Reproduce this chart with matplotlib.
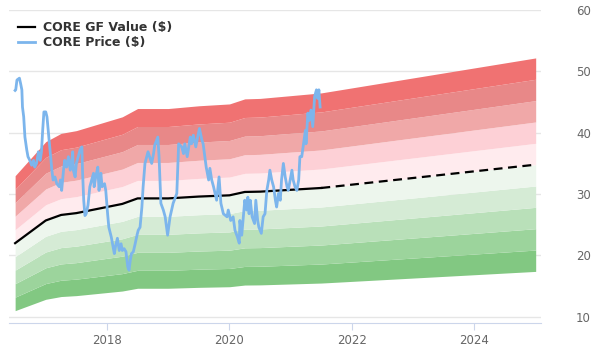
import matplotlib
matplotlib.use("Agg")
import matplotlib.pyplot as plt
import numpy as np

# GF Value (solid part is history, last segment is the projection)
gf_years = [2016.5, 2017.0, 2017.25, 2017.5, 2018.0, 2018.25, 2018.5, 2019.0,
            2019.5, 2020.0, 2020.25, 2020.5, 2021.0, 2021.5, 2025.0]
gf_vals = [22.0, 25.7, 26.6, 26.9, 27.9, 28.4, 29.3, 29.3,
           29.6, 29.8, 30.35, 30.4, 30.7, 31.0, 34.8]
gf_split = 2021.5

price_years = [
    2016.50, 2016.51, 2016.53, 2016.57, 2016.59, 2016.61, 2016.62, 2016.64, 2016.66, 2016.69,
    2016.71, 2016.74, 2016.77, 2016.80, 2016.82, 2016.85, 2016.88, 2016.91, 2016.93, 2016.95,
    2016.97, 2017.00, 2017.02, 2017.04, 2017.07, 2017.10, 2017.12, 2017.15, 2017.18, 2017.22,
    2017.24, 2017.26, 2017.29, 2017.31, 2017.34, 2017.37, 2017.40, 2017.42, 2017.44, 2017.45,
    2017.48, 2017.50, 2017.53, 2017.56, 2017.59, 2017.60, 2017.62, 2017.64, 2017.66, 2017.69,
    2017.72, 2017.75, 2017.78, 2017.79, 2017.82, 2017.85, 2017.87, 2017.90, 2017.92, 2017.96,
    2017.98, 2018.01, 2018.03, 2018.07, 2018.09, 2018.12, 2018.14, 2018.17, 2018.20, 2018.23,
    2018.25, 2018.28, 2018.31, 2018.34, 2018.36, 2018.38, 2018.40, 2018.43, 2018.46, 2018.49,
    2018.51, 2018.54, 2018.57, 2018.59, 2018.62, 2018.67, 2018.73, 2018.76, 2018.78, 2018.81,
    2018.83, 2018.85, 2018.88, 2018.92, 2018.95, 2018.99, 2019.03, 2019.08, 2019.14, 2019.17,
    2019.22, 2019.25, 2019.27, 2019.31, 2019.36, 2019.38, 2019.41, 2019.45, 2019.48, 2019.51,
    2019.55, 2019.57, 2019.62, 2019.66, 2019.68, 2019.71, 2019.74, 2019.79, 2019.83, 2019.86,
    2019.90, 2019.96, 2019.98, 2020.02, 2020.06, 2020.09, 2020.13, 2020.16, 2020.17, 2020.20,
    2020.23, 2020.25, 2020.28, 2020.30, 2020.32, 2020.34, 2020.37, 2020.41, 2020.43, 2020.46,
    2020.48, 2020.52, 2020.55, 2020.58, 2020.61, 2020.64, 2020.66, 2020.69, 2020.72, 2020.75,
    2020.77, 2020.80, 2020.83, 2020.85, 2020.88, 2020.91, 2020.94, 2020.96, 2020.99, 2021.02,
    2021.04, 2021.07, 2021.10, 2021.13, 2021.15, 2021.18, 2021.21, 2021.24, 2021.25, 2021.28,
    2021.30, 2021.33, 2021.36, 2021.39, 2021.42, 2021.44, 2021.46, 2021.48,
]
price_vals = [
    46.9, 47.0, 48.6, 48.9, 48.0, 47.0, 44.2, 42.6, 39.3, 37.2,
    36.1, 35.5, 34.7, 35.5, 34.4, 35.0, 36.9, 35.5, 36.9, 40.4,
    43.4, 43.4, 42.6, 40.4, 37.2, 33.9, 32.3, 32.8, 31.7, 31.2,
    32.3, 30.6, 33.9, 35.5, 34.4, 36.1, 33.9, 35.0, 36.9, 33.9,
    32.8, 35.0, 36.1, 37.2, 37.7, 33.9, 29.0, 26.5, 26.8, 28.2,
    31.2, 32.3, 33.4, 31.2, 33.0, 34.4, 30.6, 33.4, 31.2, 31.7,
    30.6, 26.8, 24.6, 23.0, 21.9, 20.3, 21.5, 22.8, 20.8, 21.9,
    20.8, 21.1, 20.6, 18.1, 17.6, 19.2, 20.3, 20.6, 21.9, 23.3,
    24.1, 24.6, 27.9, 31.2, 35.0, 36.9, 35.0, 36.6, 38.0, 38.8,
    39.3, 36.1, 28.5, 27.4, 26.3, 23.3, 26.3, 28.5, 30.1, 38.2,
    37.7, 36.6, 38.2, 36.1, 39.3, 38.2, 39.6, 37.7, 39.3, 40.7,
    38.8, 38.2, 34.4, 32.3, 34.2, 32.3, 31.2, 29.0, 32.8, 28.5,
    26.8, 26.3, 27.4, 25.7, 26.3, 24.1, 23.0, 22.0, 25.7, 23.3,
    26.8, 29.0, 27.4, 29.5, 26.8, 29.0, 26.3, 25.2, 29.0, 25.7,
    24.6, 23.6, 26.3, 26.8, 30.6, 32.3, 33.9, 32.3, 31.2, 29.0,
    27.9, 30.1, 29.0, 32.3, 35.0, 32.8, 31.2, 30.6, 32.3, 33.9,
    32.3, 31.2, 30.6, 32.3, 36.1, 36.1, 38.2, 40.4, 38.2, 43.2,
    42.0, 43.7, 41.0, 45.9, 47.0, 45.6, 47.0, 44.2,
]

# band edges as multiples of the GF Value, with their fill colours
band_edges = [0.5, 0.6, 0.7, 0.8, 0.9, 1.0, 1.1, 1.2, 1.3, 1.4, 1.5]
band_colors = ["#82c882", "#9cd49c", "#b9e0b9", "#d5ebd5", "#edf6ed",
               "#ffebee", "#fdd0d6", "#f0a8a8", "#e88888", "#f07272"]

x_ticks = [2018, 2020, 2022, 2024]
y_ticks = [10, 20, 30, 40, 50, 60]


def main():
    fig = plt.figure(figsize=(6, 3.6), dpi=100)
    ax = fig.add_axes([0.015, 0.103, 0.887, 0.869])

    gx = np.array(gf_years)
    gv = np.array(gf_vals)
    for lo, hi, col in zip(band_edges[:-1], band_edges[1:], band_colors):
        ax.fill_between(gx, gv * lo, gv * hi, color=col, lw=0, zorder=1)

    hist = gx <= gf_split
    fut = gx >= gf_split
    ax.plot(gx[hist], gv[hist], color="black", lw=1.6, zorder=3,
            label="CORE GF Value ($)")
    ax.plot(gx[fut], gv[fut], color="black", lw=1.6, ls=(0, (4, 2.5)), zorder=3)
    ax.plot(price_years, price_vals, color="#7cb5ec", lw=2, zorder=4,
            label="CORE Price ($)")

    ax.set_xlim(2016.40, 2025.09)
    ax.set_ylim(9.0, 60)
    ax.set_xticks(x_ticks)
    ax.set_yticks(y_ticks)
    ax.yaxis.tick_right()
    ax.grid(axis="y", color="#e6e6e6", lw=1)
    ax.set_axisbelow(True)
    for s in ["top", "left", "right"]:
        ax.spines[s].set_visible(False)
    ax.spines["bottom"].set_color("#ccd6eb")
    ax.tick_params(axis="x", colors="#ccd6eb", length=5, labelcolor="#666666",
                   labelsize=8.5, pad=3)
    ax.tick_params(axis="y", length=0, labelcolor="#666666", labelsize=8.5, pad=25)

    leg = ax.legend(loc="upper left", bbox_to_anchor=(-0.005, 1.0), frameon=False,
                    handlelength=1.4, handletextpad=0.6, labelspacing=0.15,
                    prop={"weight": "bold", "size": 9})
    for t in leg.get_texts():
        t.set_color("#333333")

    fig.savefig("out.png", dpi=100)


if __name__ == "__main__":
    main()
